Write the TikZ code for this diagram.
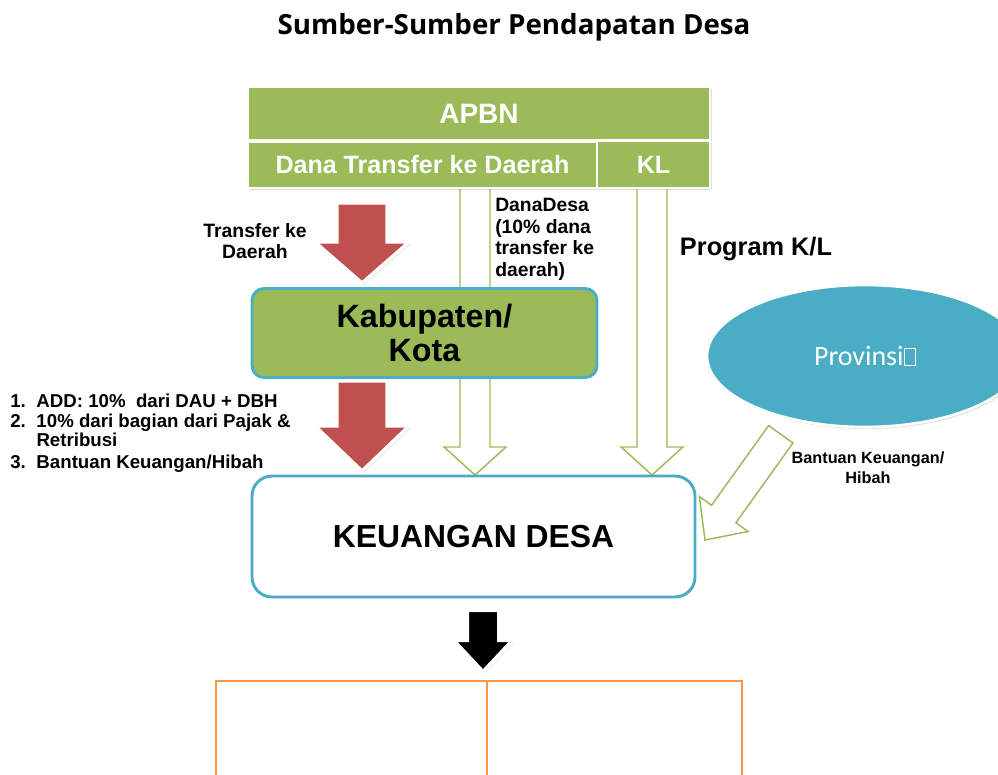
\documentclass[tikz,border=0pt]{standalone}
\usepackage{fontspec}
\setmainfont{Liberation Sans}
\newfontfamily\titlefont{Open Sans}
\newfontfamily\provfont{Carlito}
\usetikzlibrary{shadows,shapes.geometric}

\definecolor{leafgreen}{HTML}{9BBB59}
\definecolor{brickred}{HTML}{C0504D}
\definecolor{skyblue}{HTML}{4BACC6}
\definecolor{tangerine}{HTML}{F79646}

\tikzset{
  softshadow/.style={drop shadow={opacity=0.25,shadow xshift=1.2pt,shadow yshift=-1.5pt}},
  headbox/.style={draw=white,line width=2.2pt,fill=leafgreen,inner sep=0pt,
    text=white,font=\bfseries\fontsize{21}{24}\selectfont,softshadow},
  subbox/.style={headbox,font=\bfseries\fontsize{18.8}{21}\selectfont},
  regionbox/.style={draw=skyblue,line width=2.2pt,fill=leafgreen,rounded corners=9pt,
    inner sep=0pt,align=center,font=\bfseries\fontsize{24.2}{25}\selectfont},
  villagebox/.style={draw=skyblue,line width=2.2pt,fill=white,rounded corners=15pt,
    inner sep=0pt,font=\bfseries\fontsize{23.9}{28}\selectfont},
  provbubble/.style={ellipse,draw=white,line width=2pt,fill=skyblue,inner sep=0pt,
    text=white,font=\provfont\fontsize{21}{24}\selectfont,softshadow},
  outcell/.style={draw=tangerine,line width=1.4pt,inner sep=0pt},
  redflow/.style={fill=brickred,draw=white,line width=2.5pt,line join=miter,softshadow},
  darkflow/.style={fill=black,draw=white,line width=3pt,line join=miter,softshadow},
  hollowflow/.style={fill=white,draw=leafgreen,line width=1.1pt,line join=miter},
  caption/.style={font=\bfseries\fontsize{14.5}{16.2}\selectfont,align=center,inner sep=0pt},
}

\begin{document}
\begin{tikzpicture}[x=0.75pt,y=-0.75pt]
\useasboundingbox (0,0) rectangle (998,774);
\clip (0,0) rectangle (998,774);

% title
\node (title) at (514,27) {\titlefont\bfseries\fontsize{20.8}{24}\selectfont Sumber-Sumber Pendapatan Desa};

% hollow flows straight to the village (drawn first, the regency box overlaps one)
\path[hollowflow] (460,186) -- (460,447) -- (444,447) -- (475,475) -- (506,447)
  -- (490,447) -- (490,186) -- cycle;
\path[hollowflow] (637,186) -- (637,447) -- (621,447) -- (652,475) -- (683,447)
  -- (667,447) -- (667,186) -- cycle;

% national budget blocks
\node[headbox,minimum width=346.5pt,minimum height=39.75pt] (apbn) at (479,113.5) {APBN};
\node[subbox,minimum width=261.75pt,minimum height=34.5pt] (tkd) at (422.5,165) {Dana Transfer ke Daerah};
\node[subbox,minimum width=84.75pt,minimum height=35.25pt] (kl) at (653.5,164.5) {KL};

% transfer to the regency
\path[redflow] (337,203) -- (387,203) -- (387,242) -- (409,242) -- (362,283)
  -- (315,242) -- (337,242) -- cycle;
\node[caption] (lbltkd) at (255,241) {Transfer ke\\Daerah};

\node[regionbox,minimum width=258.75pt,minimum height=66.75pt] (kab) at (424.5,333) {Kabupaten/\\Kota};

\node[caption,align=left,anchor=north west] (lbldd) at (495,198)
  {DanaDesa\\(10\% dana\\transfer ke\\daerah)};
\node[font=\bfseries\fontsize{19}{22}\selectfont,inner sep=0pt] (lblkl) at (756,249) {Program K/L};

% regency to village
\path[redflow] (337,381) -- (387,381) -- (387,426) -- (409,426) -- (362,471)
  -- (315,426) -- (337,426) -- cycle;
\node[anchor=north west,inner sep=0pt,font=\bfseries\fontsize{14}{14.3}\selectfont] (lbladd) at (10,394)
  {\begin{tabular}{@{}l@{\hspace{8pt}}l@{}}
   1. & ADD: 10\%\ \ dari DAU + DBH\\
   2. & 10\% dari bagian dari Pajak \&\\
      & Retribusi\\[2.5pt]
   3. & Bantuan Keuangan/Hibah
   \end{tabular}};

% province
\node[provbubble,minimum width=237pt,minimum height=106.5pt] (prov) at (865,356)
  {Provinsi{\setlength{\fboxsep}{0pt}\setlength{\fboxrule}{0.45pt}\fbox{\rule{0pt}{0.6em}\hspace{0.4em}}}};
\path[hollowflow] (768.6,425.6) -- (711.5,505.3) -- (699.3,496.5) -- (705,540)
  -- (748.1,531.5) -- (735.9,522.7) -- (793,443) -- cycle;
\node[caption,font=\bfseries\fontsize{12.2}{15}\selectfont] (lblprov) at (868,468) {Bantuan Keuangan/\\Hibah};

% village finances
\node[villagebox,minimum width=332.25pt,minimum height=90.75pt] (desa) at (473.5,536.5) {KEUANGAN DESA};

% outflow
\path[darkflow] (467,610) -- (499,610) -- (499,640) -- (513,640) -- (483,672)
  -- (453,640) -- (467,640) -- cycle;
\node[outcell,minimum width=203.25pt,minimum height=89.25pt] (spendl) at (351.5,740.5) {};
\node[outcell,minimum width=191.25pt,minimum height=89.25pt] (spendr) at (614.5,740.5) {};
\end{tikzpicture}
\end{document}
